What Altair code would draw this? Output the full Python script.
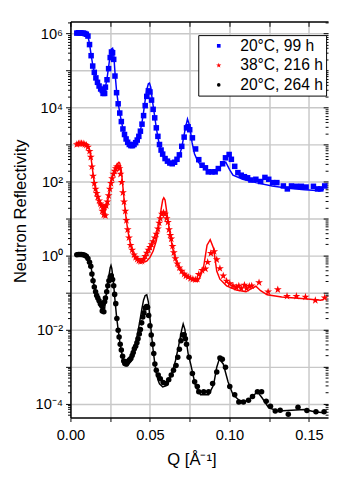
import altair as alt
import pandas as pd

SERIES = ["20°C, 99 h", "38°C, 216 h", "20°C, 264 h"]
COLORS = ["#0000ff", "#ff0000", "#000000"]
STAR = ("M0,-1.5L0.337,-0.464L1.427,-0.464L0.545,0.177L0.882,1.214L0,0.573"
        "L-0.882,1.214L-0.545,0.177L-1.427,-0.464L-0.337,-0.464Z")

# measured points: (Q [1/Å], log10 R)
blue_pts = [(0.0040,6.01),(0.0050,6.02),(0.0060,6.02),(0.0070,6.01),(0.0080,6.01),(0.0090,6.00),
            (0.0100,5.98),(0.0110,5.93),(0.0120,5.70),(0.0130,5.40),(0.0140,5.12),(0.0150,4.95),
            (0.0160,4.80),(0.0170,4.68),(0.0180,4.58),(0.0190,4.50),(0.0200,4.46),(0.0205,4.38),
            (0.0210,4.48),(0.0215,4.38),(0.0220,4.55),(0.0230,4.75),(0.0240,5.05),(0.0250,5.35),
            (0.0258,5.50),(0.0265,5.48),(0.0272,5.30),(0.0280,4.85),(0.0290,4.40),(0.0300,4.10),
            (0.0310,3.85),(0.0320,3.62),(0.0330,3.42),(0.0340,3.27),(0.0350,3.15),(0.0360,3.06),
            (0.0370,3.00),(0.0380,2.97),(0.0390,2.97),(0.0400,3.00),(0.0410,3.05),(0.0420,3.12),
            (0.0430,3.22),(0.0440,3.36),(0.0450,3.55),(0.0460,3.78),(0.0470,4.05),(0.0480,4.30),
            (0.0490,4.45),(0.0500,4.42),(0.0510,4.20),(0.0520,3.95),(0.0530,3.72),(0.0540,3.45),
            (0.0550,3.22),(0.0560,3.00),(0.0570,2.85),(0.0580,2.74),(0.0595,2.62),(0.0610,2.55),
            (0.0625,2.50),(0.0640,2.48),(0.0655,2.52),(0.0670,2.60),(0.0685,2.72),(0.0700,2.95),
            (0.0715,3.20),(0.0730,3.45),(0.0740,3.48),(0.0750,3.40),(0.0767,3.18),(0.0787,2.88),
            (0.0807,2.59),(0.0828,2.44),(0.0849,2.37),(0.0867,2.26),(0.0890,2.26),(0.0910,2.26),
            (0.0930,2.35),(0.0957,2.48),(0.0975,2.64),(0.0998,2.73),(0.1012,2.60),(0.1033,2.41),
            (0.1053,2.24),(0.1074,2.17),(0.1094,2.13),(0.1114,2.10),(0.1135,2.04),(0.1166,2.06),
            (0.1196,2.00),(0.1223,2.11),(0.1247,2.06),(0.1272,1.97),(0.1298,1.97),(0.1339,1.88),
            (0.1364,1.80),(0.1390,1.88),(0.1421,1.87),(0.1452,1.87),(0.1482,1.85),(0.1528,1.87),
            (0.1554,1.80),(0.1574,1.80),(0.1599,1.88)]

red_pts = [(0.0040,3.00),(0.0050,3.02),(0.0060,3.03),(0.0070,3.03),(0.0080,3.02),(0.0090,3.00),
           (0.0100,2.98),(0.0110,2.93),(0.0120,2.82),(0.0128,2.66),(0.0135,2.40),(0.0142,2.15),
           (0.0150,1.95),(0.0158,1.80),(0.0165,1.68),(0.0172,1.58),(0.0180,1.48),(0.0188,1.40),
           (0.0195,1.35),(0.0200,1.20),(0.0205,1.32),(0.0210,1.10),(0.0215,1.30),(0.0220,1.08),
           (0.0225,1.35),(0.0232,1.45),(0.0240,1.62),(0.0248,1.80),(0.0255,1.95),(0.0262,2.08),
           (0.0270,2.20),(0.0278,2.28),(0.0285,2.35),(0.0292,2.40),(0.0300,2.40),(0.0308,2.35),
           (0.0315,2.20),(0.0322,1.98),(0.0330,1.70),(0.0337,1.45),(0.0345,1.20),(0.0352,0.95),
           (0.0360,0.70),(0.0368,0.48),(0.0378,0.28),(0.0388,0.15),(0.0400,0.02),(0.0410,-0.05),
           (0.0420,-0.10),(0.0430,-0.14),(0.0440,-0.16),(0.0450,-0.15),(0.0460,-0.10),(0.0470,-0.02),
           (0.0480,0.07),(0.0490,0.15),(0.0500,0.22),(0.0510,0.30),(0.0520,0.38),(0.0530,0.48),
           (0.0540,0.58),(0.0550,0.72),(0.0558,0.88),(0.0565,1.00),(0.0575,1.12),(0.0585,1.16),
           (0.0595,1.12),(0.0605,1.00),(0.0613,0.90),(0.0620,0.70),(0.0628,0.55),(0.0634,0.45),
           (0.0642,0.25),(0.0650,0.08),(0.0660,-0.08),(0.0672,-0.22),(0.0685,-0.33),(0.0700,-0.42),
           (0.0715,-0.50),(0.0726,-0.55),(0.0740,-0.58),(0.0755,-0.62),(0.0770,-0.64),(0.0785,-0.65),
           (0.0798,-0.64),(0.0807,-0.51),(0.0828,-0.40),(0.0849,-0.36),(0.0863,-0.18),(0.0883,0.06),
           (0.0904,0.11),(0.0920,-0.11),(0.0940,-0.35),(0.0961,-0.55),(0.0982,-0.69),(0.1002,-0.76),
           (0.1022,-0.82),(0.1043,-0.86),(0.1059,-0.82),(0.1074,-0.89),(0.1094,-0.80),(0.1108,-0.89),
           (0.1125,-0.83),(0.1140,-0.82),(0.1186,-0.73),(0.1243,-0.98),(0.1304,-0.92),(0.1362,-1.10),
           (0.1421,-1.10),(0.1478,-1.12),(0.1540,-1.21),(0.1599,-1.14)]

black_pts = [(0.0040,0.02),(0.0050,0.03),(0.0060,0.03),(0.0070,0.03),(0.0080,0.02),(0.0090,0.01),
             (0.0100,-0.02),(0.0110,-0.08),(0.0120,-0.18),(0.0128,-0.29),(0.0135,-0.50),(0.0142,-0.68),
             (0.0150,-0.85),(0.0158,-0.98),(0.0165,-1.08),(0.0172,-1.15),(0.0180,-1.22),(0.0188,-1.30),
             (0.0195,-1.35),(0.0200,-1.50),(0.0205,-1.30),(0.0210,-1.52),(0.0215,-1.25),(0.0220,-1.15),
             (0.0228,-0.98),(0.0235,-0.82),(0.0242,-0.68),(0.0250,-0.58),(0.0257,-0.55),(0.0265,-0.65),
             (0.0272,-0.82),(0.0278,-1.05),(0.0285,-1.30),(0.0292,-1.70),(0.0300,-2.02),(0.0306,-2.20),
             (0.0313,-2.40),(0.0320,-2.55),(0.0328,-2.72),(0.0335,-2.85),(0.0342,-2.92),(0.0350,-2.93),
             (0.0357,-2.88),(0.0365,-2.85),(0.0372,-2.82),(0.0380,-2.78),(0.0388,-2.70),(0.0395,-2.62),
             (0.0402,-2.52),(0.0410,-2.45),(0.0418,-2.36),(0.0425,-2.25),(0.0433,-2.12),(0.0440,-2.00),
             (0.0448,-1.82),(0.0455,-1.66),(0.0462,-1.55),(0.0470,-1.42),(0.0478,-1.38),(0.0485,-1.40),
             (0.0492,-1.62),(0.0500,-1.90),(0.0508,-2.15),(0.0517,-2.40),(0.0524,-2.65),(0.0531,-2.93),
             (0.0540,-3.10),(0.0552,-3.23),(0.0565,-3.33),(0.0583,-3.43),(0.0603,-3.46),(0.0618,-3.36),
             (0.0634,-3.23),(0.0648,-3.10),(0.0664,-2.97),(0.0675,-2.75),(0.0685,-2.53),(0.0695,-2.30),
             (0.0705,-2.15),(0.0715,-2.14),(0.0723,-2.25),(0.0730,-2.40),(0.0746,-2.75),(0.0767,-3.19),
             (0.0781,-3.41),(0.0798,-3.54),(0.0807,-3.68),(0.0838,-3.68),(0.0869,-3.68),(0.0894,-3.46),
             (0.0920,-3.15),(0.0940,-2.77),(0.0955,-2.80),(0.0975,-3.02),(0.1002,-3.54),(0.1033,-3.76),
             (0.1059,-3.96),(0.1088,-3.96),(0.1120,-3.91),(0.1145,-3.81),(0.1176,-3.68),(0.1202,-3.68),
             (0.1231,-3.94),(0.1258,-4.07),(0.1288,-4.20),(0.1319,-4.18),(0.1370,-4.29),(0.1431,-4.10),
             (0.1487,-4.19),(0.1544,-4.22),(0.1595,-4.22)]

# model fits: (Q, log10 R)
blue_fit = [(0.004,6.02),(0.008,6.02),(0.010,5.99),(0.011,5.93),(0.012,5.72),(0.013,5.42),(0.014,5.15),
            (0.015,4.95),(0.016,4.80),(0.017,4.68),(0.018,4.58),(0.019,4.50),(0.0195,4.40),(0.020,4.48),
            (0.0205,4.36),(0.021,4.47),(0.0215,4.40),(0.022,4.55),(0.023,4.78),(0.024,5.10),(0.025,5.42),
            (0.0258,5.58),(0.0265,5.60),(0.0272,5.45),(0.028,4.95),(0.029,4.45),(0.030,4.12),(0.031,3.86),
            (0.032,3.63),(0.033,3.43),(0.034,3.27),(0.035,3.14),(0.036,3.05),(0.037,2.99),(0.038,2.96),
            (0.039,2.96),(0.040,2.99),(0.041,3.04),(0.042,3.12),(0.043,3.23),(0.044,3.38),(0.045,3.60),
            (0.046,3.88),(0.047,4.20),(0.048,4.48),(0.049,4.64),(0.0497,4.66),(0.0505,4.55),(0.0515,4.20),
            (0.0525,3.90),(0.054,3.45),(0.055,3.20),(0.056,2.98),(0.057,2.82),(0.058,2.70),(0.060,2.55),
            (0.062,2.47),(0.064,2.44),(0.066,2.48),(0.068,2.62),(0.070,2.92),(0.072,3.38),(0.0736,3.69),
            (0.075,3.50),(0.0765,3.05),(0.078,2.75),(0.080,2.55),(0.082,2.44),(0.086,2.30),(0.090,2.30),
            (0.093,2.35),(0.096,2.48),(0.0977,2.52),(0.1000,2.33),(0.1022,2.17),(0.1084,2.06),(0.1166,1.97),
            (0.1268,1.88),(0.137,1.82),(0.1472,1.78),(0.1574,1.75),(0.1594,1.79)]

red_fit = [(0.004,3.00),(0.009,3.00),(0.011,2.95),(0.012,2.85),(0.013,2.62),(0.014,2.28),(0.015,1.95),
           (0.016,1.75),(0.017,1.60),(0.018,1.48),(0.019,1.38),(0.020,1.30),(0.0205,1.12),(0.021,1.26),
           (0.0215,1.10),(0.022,1.25),(0.023,1.38),(0.024,1.60),(0.025,1.85),(0.026,2.05),(0.027,2.22),
           (0.028,2.35),(0.029,2.45),(0.030,2.50),(0.0305,2.52),(0.031,2.50),(0.032,2.30),(0.033,1.85),
           (0.034,1.40),(0.035,1.00),(0.036,0.70),(0.037,0.45),(0.038,0.25),(0.039,0.10),(0.040,0.00),
           (0.042,-0.10),(0.044,-0.16),(0.046,-0.18),(0.048,-0.15),(0.050,-0.05),(0.052,0.12),(0.054,0.40),
           (0.056,0.90),(0.057,1.25),(0.058,1.50),(0.0587,1.56),(0.0595,1.50),(0.060,1.35),(0.061,1.05),
           (0.062,0.75),(0.063,0.50),(0.064,0.25),(0.065,0.05),(0.066,-0.10),(0.068,-0.32),(0.070,-0.45),
           (0.072,-0.55),(0.075,-0.62),(0.078,-0.68),(0.080,-0.70),(0.0818,-0.55),(0.0838,-0.29),
           (0.0859,0.28),(0.0879,0.43),(0.090,0.20),(0.092,-0.42),(0.094,-0.64),(0.0982,-0.82),
           (0.1043,-0.93),(0.1104,-0.98),(0.1135,-0.90),(0.1166,-0.83),(0.1196,-0.95),(0.1237,-1.06),
           (0.1329,-1.12),(0.1472,-1.17),(0.1574,-1.21),(0.1594,-1.18)]

black_fit = [(0.004,0.02),(0.009,0.02),(0.011,-0.05),(0.012,-0.15),(0.013,-0.32),(0.014,-0.60),
             (0.015,-0.85),(0.016,-1.02),(0.017,-1.15),(0.018,-1.26),(0.019,-1.36),(0.0195,-1.50),
             (0.020,-1.40),(0.0205,-1.58),(0.021,-1.38),(0.0215,-1.45),(0.022,-1.20),(0.023,-0.92),
             (0.024,-0.60),(0.025,-0.33),(0.0255,-0.27),(0.026,-0.35),(0.027,-0.70),(0.028,-1.20),
             (0.029,-1.65),(0.030,-2.00),(0.031,-2.32),(0.032,-2.58),(0.033,-2.78),(0.034,-2.92),
             (0.035,-2.98),(0.036,-2.98),(0.037,-2.92),(0.038,-2.82),(0.039,-2.68),(0.040,-2.52),
             (0.041,-2.35),(0.042,-2.15),(0.043,-1.92),(0.044,-1.68),(0.045,-1.42),(0.046,-1.20),
             (0.047,-1.08),(0.048,-1.06),(0.049,-1.25),(0.050,-1.70),(0.051,-2.15),(0.052,-2.55),
             (0.053,-2.90),(0.054,-3.18),(0.055,-3.36),(0.056,-3.47),(0.058,-3.55),(0.060,-3.52),
             (0.062,-3.38),(0.064,-3.15),(0.066,-2.85),(0.068,-2.45),(0.070,-2.00),(0.0709,-1.85),
             (0.072,-2.00),(0.073,-2.35),(0.074,-2.65),(0.0756,-2.93),(0.0787,-3.54),(0.0818,-3.76),
             (0.0869,-3.76),(0.090,-3.50),(0.092,-3.02),(0.0936,-2.80),(0.0961,-2.93),(0.0991,-3.41),
             (0.1022,-3.76),(0.1063,-3.92),(0.1104,-3.94),(0.1145,-3.81),(0.1176,-3.68),(0.1206,-3.85),
             (0.1247,-4.12),(0.1309,-4.20),(0.139,-4.18),(0.1472,-4.16),(0.1534,-4.22),(0.1595,-4.25)]

X_DOMAIN = [0.0, 0.162]
Y_DOMAIN = [10 ** -4.38, 10 ** 6.325]
FONT = "Liberation Sans"


def frame(pairs, name):
    return pd.DataFrame({"q": [p[0] for p in pairs],
                         "r": [10 ** p[1] for p in pairs],
                         "series": name})


pts = pd.concat([frame(blue_pts, SERIES[0]), frame(red_pts, SERIES[1]),
                 frame(black_pts, SERIES[2])], ignore_index=True)

xs = alt.Scale(domain=X_DOMAIN, nice=False, zero=False)
ys = alt.Scale(type="log", domain=Y_DOMAIN, nice=False)

x_ticks = [round(i * 0.025, 3) for i in range(7)]
y_major = [10.0 ** e for e in range(-4, 7)]
y_minor = [m * 10.0 ** e for e in range(-5, 7) for m in range(2, 10)
           if Y_DOMAIN[0] <= m * 10.0 ** e <= Y_DOMAIN[1]]

e = "round(log(datum.value)/LN10)"
y_label = (f"{e}==6?'10⁶':{e}==4?'10⁴':{e}==2?'10²':{e}==0?'10⁰':"
           f"{e}==-2?'10⁻²':{e}==-4?'10⁻⁴':''")
x_label = "(round(datum.value*1000) % 50 == 0) ? format(datum.value, '.2f') : ''"

GRID = "#c8c8c8"

x_main = alt.Axis(values=x_ticks, labelExpr=x_label, grid=True, gridColor=GRID, gridWidth=1.5,
                  domain=True, domainColor="black", domainWidth=1.5, ticks=True, tickSize=4,
                  tickColor="black", labelFontSize=15, labelFont=FONT, labelColor="black",
                  labelPadding=6, labelFlush=False, labelOverlap=False,
                  title="Q [Å⁻¹]", titleFont=FONT, titleFontSize=17,
                  titleFontWeight="normal", titleColor="black", titleX=124, titleY=43,
                  titleBaseline="middle")
y_main = alt.Axis(values=y_major, labelExpr=y_label, grid=True, gridColor=GRID, gridWidth=1.5,
                  domain=True, domainColor="black", domainWidth=1.5, ticks=True, tickSize=5,
                  tickColor="black", labelFontSize=15, labelFont=FONT, labelColor="black",
                  labelPadding=3, labelFlush=False, labelOverlap=False,
                  title="Neutron Reflectivity", titleFont=FONT, titleFontSize=17,
                  titleFontWeight="normal", titleColor="black", titleX=-51, titleY=194,
                  titleAngle=270, titleBaseline="middle", orient="left")

x_top_line = alt.Axis(orient="top", domain=True, domainColor="black", domainWidth=1.5,
                      ticks=False, labels=False, grid=False, title=None)
x_top_ticks = alt.Axis(orient="top", values=x_ticks, domain=False, ticks=True, tickSize=5,
                       tickColor="black", labels=False, grid=False, title=None, offset=-5)
y_left_minor = alt.Axis(orient="left", values=y_minor, domain=False, ticks=True, tickSize=3,
                        tickColor="black", labels=False, grid=False, title=None)
y_right_major = alt.Axis(orient="right", values=y_major, domain=False, ticks=True, tickSize=5,
                         tickColor="black", labels=False, grid=False, title=None, offset=-5)
y_right_minor = alt.Axis(orient="right", values=y_minor, domain=False, ticks=True, tickSize=3,
                         tickColor="black", labels=False, grid=False, title=None, offset=-3)

legend = alt.Legend(title=None, orient="none", legendX=131, legendY=14, strokeColor="black",
                    fillColor="white", padding=3, symbolOffset=10, labelOffset=14, rowPadding=4,
                    labelFontSize=16, labelFont=FONT, labelColor="black", symbolSize=14,
                    symbolStrokeWidth=0, cornerRadius=0)

points = alt.Chart(pts).mark_point(filled=True, opacity=1, size=32, strokeWidth=0).encode(
    x=alt.X("q:Q", scale=xs, axis=x_main),
    y=alt.Y("r:Q", scale=ys, axis=y_main),
    color=alt.Color("series:N", scale=alt.Scale(domain=SERIES, range=COLORS), legend=legend,
                    sort=SERIES),
    shape=alt.Shape("series:N", scale=alt.Scale(domain=SERIES, range=["square", STAR, "circle"]),
                    legend=legend, sort=SERIES),
)


def fit_line(pairs, name, color, xaxis, yaxis):
    return alt.Chart(frame(pairs, name)).mark_line(color=color, strokeWidth=1.5).encode(
        x=alt.X("q:Q", scale=xs, axis=xaxis),
        y=alt.Y("r:Q", scale=ys, axis=yaxis),
    )


line_b = fit_line(blue_fit, SERIES[0], COLORS[0], x_top_line, y_left_minor)
line_r = fit_line(red_fit, SERIES[1], COLORS[1], x_top_ticks, y_right_major)
line_k = fit_line(black_fit, SERIES[2], COLORS[2], None, y_right_minor)

chart = (
    alt.layer(points, line_b, line_r, line_k)
    .resolve_axis(x="independent", y="independent")
    .properties(width=264, height=406,
                padding={"left": 64, "top": 8, "right": 2, "bottom": 52},
                autosize=alt.AutoSizeParams(type="none"))
    .configure_view(stroke=None)
)

chart.save("out.html", embed_options={"renderer": "svg", "actions": False})
